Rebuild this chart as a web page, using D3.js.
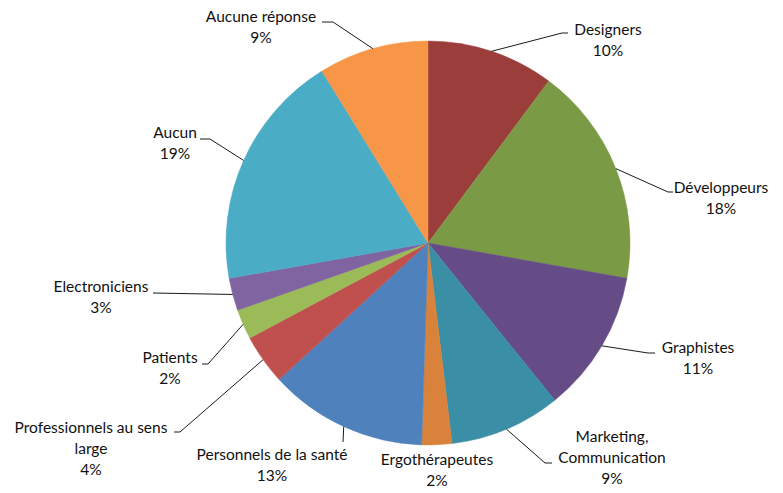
<!DOCTYPE html>
<html>
<head>
<meta charset="utf-8">
<script src="https://cdn.jsdelivr.net/npm/d3@7"></script>
<style>
  body { margin: 0; background: #fff; }
  svg { display: block; }
</style>
</head>
<body>
<div id="chart"></div>
<script>
// categories, clockwise from 12 o'clock
const categories = [
    "Designers", "Développeurs", "Graphistes", "Marketing,\nCommunication", "Ergothérapeutes",
    "Personnels de la santé", "Professionnels au sens\nlarge", "Patients", "Electroniciens",
    "Aucun", "Aucune réponse"
];
// shares (%)
const shares = [10.2, 17.6, 11.4, 8.9, 2.4, 12.7, 4.0, 2.4, 2.6, 19.0, 8.8];
const colors = [
    "#9a3d3b", "#7b9a45", "#664c86", "#3a8ea5", "#d8823c",
    "#4f81bd", "#c0504d", "#9bbb59", "#8064a2", "#4bacc6", "#f79646"
];

// label placement: text centre x, first baseline y, leader elbow/end points
const labelLayout = [
    { x: 608, y: 35, leader: [[562, 33], [568, 33]] },
    { x: 721, y: 193, leader: [[668, 192], [673, 192]] },
    { x: 698, y: 353, leader: [[648, 353], [655, 353]] },
    { x: 612, y: 442, leader: [[545, 463], [552, 463]] },
    { x: 437, y: 465, leader: null },
    { x: 272, y: 460, leader: [[343, 442]] },
    { x: 91, y: 433, leader: [[180, 432], [174, 432]] },
    { x: 170, y: 363, leader: [[208, 364], [202, 364]] },
    { x: 101, y: 292, leader: [[153, 293]] },
    { x: 175, y: 138, leader: [[210, 139], [200, 139]] },
    { x: 261, y: 22, leader: [[333, 22], [322, 22]] }
];

const width = 783,
    height = 493,
    cx = 428,
    cy = 243,
    radius = 202;

const data = categories.map((c, i) => ({ name: c, value: shares[i], color: colors[i] }));
const total = d3.sum(shares);
const fmt = d3.format(".0%");

const arcs = d3.pie().sort(null).value(d => d.value)(data);
const arc = d3.arc().innerRadius(0).outerRadius(radius);
const arcEdge = d3.arc().innerRadius(radius).outerRadius(radius);

const svg = d3.select("#chart")
    .append("svg")
    .attr("width", width)
    .attr("height", height);

const g = svg.append("g").attr("transform", `translate(${cx},${cy})`);

g.selectAll("path")
    .data(arcs)
    .join("path")
    .attr("fill", d => d.data.color)
    .attr("stroke", d => d.data.color)
    .attr("stroke-width", 0.5)
    .attr("d", arc);

// leader lines
const line = d3.line();
svg.append("g")
    .attr("fill", "none")
    .attr("stroke", "#1a1a1a")
    .attr("stroke-width", 1)
    .selectAll("path")
    .data(arcs.filter((d, i) => labelLayout[i].leader))
    .join("path")
    .attr("d", d => {
        const [x0, y0] = arcEdge.centroid(d);
        return line([[cx + x0, cy + y0], ...labelLayout[d.index].leader]);
    });

// labels
svg.append("g")
    .attr("font-family", "Lato, 'Open Sans', sans-serif")
    .attr("font-size", 15.5)
    .attr("fill", "#111")
    .attr("text-anchor", "middle")
    .selectAll("text")
    .data(arcs)
    .join("text")
    .attr("transform", d => `translate(${labelLayout[d.index].x},${labelLayout[d.index].y})`)
    .selectAll("tspan")
    .data(d => [...d.data.name.split("\n"), fmt(d.data.value / total)])
    .join("tspan")
    .attr("x", 0)
    .attr("y", (d, i) => i * 21)
    .text(d => d);
</script>
</body>
</html>
